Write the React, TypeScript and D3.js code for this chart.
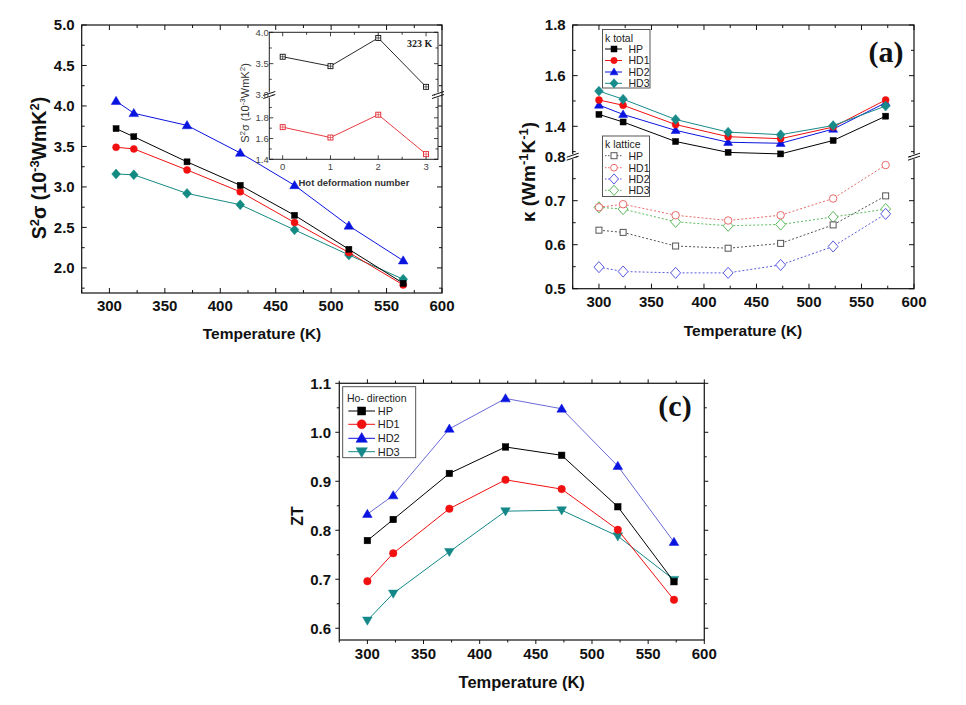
import React from 'react';
import * as d3 from 'd3';

const SANS = "'Liberation Sans', Arial, sans-serif";
const SERIF = "'Liberation Serif', 'Times New Roman', serif";

// ---------- Panel 1: power factor ----------
const tempPF = [306, 322, 370, 418, 467, 516, 565];
const pfHP = [3.72, 3.62, 3.31, 3.02, 2.65, 2.23, 1.81];
const pfHD1 = [3.49, 3.47, 3.21, 2.94, 2.56, 2.19, 1.79];
const pfHD2 = [4.06, 3.91, 3.76, 3.42, 3.02, 2.52, 2.09];
const pfHD3 = [3.16, 3.15, 2.92, 2.78, 2.47, 2.16, 1.86];
const pfYTicks = [2.0, 2.5, 3.0, 3.5, 4.0, 4.5, 5.0];
const xTicks = [300, 350, 400, 450, 500, 550, 600];

// inset
const hotNum = [0, 1, 2, 3];
const insetUpper = [3.61, 3.46, 3.91, 3.13];
const insetLower = [1.71, 1.61, 1.83, 1.45];
const insetYUpperTicks = [3.0, 3.5, 4.0];
const insetYLowerTicks = [1.4, 1.6, 1.8];

// ---------- Panel (a): thermal conductivity ----------
const tempK = [300, 323, 373, 423, 473, 523, 573];
const kTotHP = [1.447, 1.417, 1.34, 1.297, 1.291, 1.344, 1.44];
const kTotHD1 = [1.504, 1.483, 1.407, 1.359, 1.351, 1.397, 1.504];
const kTotHD2 = [1.484, 1.447, 1.384, 1.337, 1.333, 1.389, 1.493];
const kTotHD3 = [1.539, 1.507, 1.427, 1.377, 1.367, 1.403, 1.48];
const kLatHP = [0.633, 0.628, 0.597, 0.592, 0.603, 0.645, 0.711];
const kLatHD1 = [0.685, 0.692, 0.667, 0.655, 0.667, 0.705, 0.781];
const kLatHD2 = [0.549, 0.539, 0.536, 0.536, 0.554, 0.596, 0.67];
const kLatHD3 = [0.685, 0.681, 0.652, 0.643, 0.646, 0.663, 0.681];
const kUpperTicks = [1.4, 1.6, 1.8];
const kLowerTicks = [0.5, 0.6, 0.7, 0.8];

// ---------- Panel (c): ZT ----------
const ztHP = [0.779, 0.822, 0.916, 0.97, 0.953, 0.848, 0.695];
const ztHD1 = [0.696, 0.753, 0.844, 0.903, 0.884, 0.801, 0.658];
const ztHD2 = [0.833, 0.871, 1.007, 1.069, 1.048, 0.931, 0.776];
const ztHD3 = [0.616, 0.671, 0.756, 0.839, 0.841, 0.788, 0.699];
const ztYTicks = [0.6, 0.7, 0.8, 0.9, 1.0, 1.1];

const seriesNames = ['HP', 'HD1', 'HD2', 'HD3'];

type Shape = 'square' | 'circle' | 'tri' | 'triDown' | 'diamond' | 'squarePlus';

function mark(shape: Shape, x: number, y: number, s: number, color: string, open: boolean, key: any) {
  const fill = open ? 'white' : color;
  const sw = open ? 1 : 0.5;
  switch (shape) {
    case 'square':
      return <rect key={key} x={x - s / 2} y={y - s / 2} width={s} height={s} fill={fill} stroke={color} strokeWidth={sw} />;
    case 'squarePlus':
      return (
        <g key={key}>
          <rect x={x - s / 2} y={y - s / 2} width={s} height={s} fill="white" stroke={color} strokeWidth={0.9} />
          <path d={`M${x - s / 2},${y}H${x + s / 2}M${x},${y - s / 2}V${y + s / 2}`} stroke={color} strokeWidth={0.6} />
        </g>
      );
    case 'circle':
      return <circle key={key} cx={x} cy={y} r={s / 2} fill={fill} stroke={color} strokeWidth={sw} />;
    case 'tri':
      return <path key={key} d={`M${x},${y - s * 0.6}L${x + s * 0.6},${y + s * 0.42}L${x - s * 0.6},${y + s * 0.42}Z`} fill={fill} stroke={color} strokeWidth={sw} />;
    case 'triDown':
      return <path key={key} d={`M${x},${y + s * 0.6}L${x + s * 0.6},${y - s * 0.42}L${x - s * 0.6},${y - s * 0.42}Z`} fill={fill} stroke={color} strokeWidth={sw} />;
    case 'diamond':
      return <path key={key} d={`M${x},${y - s * 0.62}L${x + s * 0.55},${y}L${x},${y + s * 0.62}L${x - s * 0.55},${y}Z`} fill={fill} stroke={color} strokeWidth={sw} />;
  }
  return null;
}

function Series(props: {
  xs: (v: number) => number; ys: (v: number) => number; tx: number[]; vals: number[];
  color: string; lineColor?: string; shape: Shape; size: number; dash?: string; open?: boolean; lw?: number;
}) {
  const { xs, ys, tx, vals, color, lineColor, shape, size, dash, open, lw } = props;
  const pts: [number, number][] = tx.map((t, i) => [xs(t), ys(vals[i])]);
  const line = d3.line<[number, number]>()(pts) || '';
  return (
    <g>
      <path d={line} fill="none" stroke={lineColor || color} strokeWidth={lw || 1} strokeDasharray={dash} />
      {pts.map((p, i) => mark(shape, p[0], p[1], size, color, !!open, i))}
    </g>
  );
}

function Ticks(props: {
  x0: number; x1: number; y0: number; y1: number; xMaj: number[]; xMin: number[]; yMaj: number[]; yMin: number[];
  dir: number; maj: number; min: number; sw?: number;
}) {
  const { x0, x1, y0, y1, xMaj, xMin, yMaj, yMin, dir, maj, min } = props;
  const d: string[] = [];
  const addX = (x: number, l: number) => {
    d.push(`M${x},${y1}V${y1 - dir * l}`);
    d.push(`M${x},${y0}V${y0 + dir * l}`);
  };
  const addY = (y: number, l: number) => {
    d.push(`M${x0},${y}H${x0 + dir * l}`);
    d.push(`M${x1},${y}H${x1 - dir * l}`);
  };
  xMaj.forEach((x) => addX(x, maj));
  xMin.forEach((x) => addX(x, min));
  yMaj.forEach((y) => addY(y, maj));
  yMin.forEach((y) => addY(y, min));
  return <path d={d.join('')} stroke="#111" strokeWidth={props.sw || 1} fill="none" />;
}

function BreakMark({ x, y }: { x: number; y: number }) {
  return (
    <g>
      <rect x={x - 3} y={y - 2.5} width={6} height={5} fill="white" />
      <path d={`M${x - 6},${y + 0.5}L${x + 6},${y - 3.5}M${x - 6},${y + 3.5}L${x + 6},${y - 0.5}`} stroke="#111" strokeWidth={1} />
    </g>
  );
}

const fmt1 = (v: number) => v.toFixed(1);

function PanelPF() {
  const L = 81.7, R = 442, T = 25, B = 293;
  const xs = d3.scaleLinear().domain([275, 600]).range([L, R]);
  const ys = d3.scaleLinear().domain([1.69, 5.0]).range([B, T]);
  const xMin = d3.range(275, 601, 50).map(xs);
  const yMaj = pfYTicks.map(ys);
  const yMin = pfYTicks.map((v) => v - 0.25).filter((v) => v > 1.69).map(ys);
  return (
    <g>
      <rect x={L} y={T} width={R - L} height={B - T} fill="white" stroke="#111" strokeWidth={1.2} />
      <Ticks x0={L} x1={R} y0={T} y1={B} xMaj={xTicks.map(xs)} xMin={xMin} yMaj={yMaj} yMin={yMin} dir={1} maj={5} min={3} />
      {pfYTicks.map((v) => (
        <text key={v} x={L - 7} y={ys(v) + 5.4} textAnchor="end" fontFamily={SANS} fontWeight="bold" fontSize={15} fill="#111">{fmt1(v)}</text>
      ))}
      {xTicks.map((v) => (
        <text key={v} x={xs(v)} y={310.5} textAnchor="middle" fontFamily={SANS} fontWeight="bold" fontSize={15} fill="#111">{v}</text>
      ))}
      <Series xs={xs} ys={ys} tx={tempPF} vals={pfHD3} color="#138a82" shape="diamond" size={8} />
      <Series xs={xs} ys={ys} tx={tempPF} vals={pfHD1} color="#f01010" shape="circle" size={7} />
      <Series xs={xs} ys={ys} tx={tempPF} vals={pfHP} color="#000" shape="square" size={6} />
      <Series xs={xs} ys={ys} tx={tempPF} vals={pfHD2} color="#0a14e0" shape="tri" size={8} />
      <text x={262} y={338.5} textAnchor="middle" fontFamily={SANS} fontWeight="bold" fontSize={15.5} fill="#111">Temperature (K)</text>
      <text transform="translate(46,168) rotate(-90)" textAnchor="middle" fontFamily={SANS} fontWeight="bold" fontSize={19.5} fill="#111">
        <tspan>S</tspan>
        <tspan dy={-7} fontSize={13}>2</tspan>
        <tspan dy={7}>σ (10</tspan>
        <tspan dy={-7} fontSize={13}>-3</tspan>
        <tspan dy={7}>WmK</tspan>
        <tspan dy={-7} fontSize={13}>2</tspan>
        <tspan dy={7}>)</tspan>
      </text>
      <Inset />
    </g>
  );
}

function Inset() {
  const L = 269.3, R = 438, T = 32.3, B = 159.3, BR = 95;
  const xs = d3.scaleLinear().domain([-0.28, 3.25]).range([L, R]);
  const yU = d3.scaleLinear().domain([3.0, 4.0]).range([BR, T]);
  const yL = d3.scaleLinear().domain([1.4, 2.02]).range([B, BR]);
  const xMin = [-0.5, 0.5, 1.5, 2.5].filter((v) => v > -0.28).map(xs);
  const yMaj = [...insetYUpperTicks.map(yU), ...insetYLowerTicks.map(yL)];
  const yMin = [...[3.25, 3.75].map(yU), ...[1.5, 1.7, 1.9].map(yL)];
  const red = '#e3262e';
  return (
    <g>
      <rect x={L} y={T} width={R - L} height={B - T} fill="white" stroke="#222" strokeWidth={1} />
      <Ticks x0={L} x1={R} y0={T} y1={B} xMaj={hotNum.map(xs)} xMin={xMin} yMaj={yMaj} yMin={yMin} dir={1} maj={4} min={2.5} sw={0.8} />
      <BreakMark x={L} y={BR} />
      <BreakMark x={R} y={BR} />
      {insetYUpperTicks.map((v) => (
        <text key={'u' + v} x={L - 0.5} y={yU(v) + 3.3} textAnchor="end" fontFamily={SANS} fontSize={9.5} fill="#444">{fmt1(v)}</text>
      ))}
      {insetYLowerTicks.map((v) => (
        <text key={'l' + v} x={L - 0.5} y={yL(v) + 3.3} textAnchor="end" fontFamily={SANS} fontSize={9.5} fill="#444">{fmt1(v)}</text>
      ))}
      {hotNum.map((v) => (
        <text key={v} x={xs(v)} y={169.5} textAnchor="middle" fontFamily={SANS} fontSize={9.5} fill="#444">{v}</text>
      ))}
      <Series xs={xs} ys={yU} tx={hotNum} vals={insetUpper} color="#111" shape="squarePlus" size={5} lw={0.9} />
      <Series xs={xs} ys={yL} tx={hotNum} vals={insetLower} color={red} shape="squarePlus" size={5} lw={0.9} />
      <text x={407} y={46.5} fontFamily={SERIF} fontWeight="bold" fontSize={10} fill="#222">323 K</text>
      <text x={298.5} y={186.3} fontFamily={SANS} fontWeight="bold" fontSize={9.5} fill="#333">Hot deformation number</text>
      <text transform="translate(248.5,103) rotate(-90)" textAnchor="middle" fontFamily={SANS} fontSize={11} fill="#333">
        <tspan>S</tspan>
        <tspan dy={-4} fontSize={8}>2</tspan>
        <tspan dy={4}>σ (10</tspan>
        <tspan dy={-4} fontSize={8}>-3</tspan>
        <tspan dy={4}>WmK</tspan>
        <tspan dy={-4} fontSize={8}>2</tspan>
        <tspan dy={4}>)</tspan>
      </text>
    </g>
  );
}

function PanelK() {
  const L = 572.7, R = 914, T = 25, B = 288.7, BR = 156.7;
  const xs = d3.scaleLinear().domain([275, 600]).range([L, R]);
  const yU = d3.scaleLinear().domain([1.28, 1.8]).range([BR, T]);
  const yL = d3.scaleLinear().domain([0.5, 0.8]).range([B, BR]);
  const xMin = d3.range(275, 601, 50).map(xs);
  const yMaj = [...kUpperTicks.map(yU), ...kLowerTicks.map(yL)];
  const yMin = [...[1.3, 1.5, 1.7].map(yU), ...[0.55, 0.65, 0.75].map(yL)];
  const teal = '#178a8a';
  const latBlack = '#555', latRed = '#e86a6a', latBlue = '#5a5ae0', latGreen = '#5cba5c';
  const legTot = [
    { c: '#000', s: 'square' as Shape, sz: 8 },
    { c: '#f01010', s: 'circle' as Shape, sz: 8.5 },
    { c: '#0a14e0', s: 'tri' as Shape, sz: 9 },
    { c: teal, s: 'diamond' as Shape, sz: 10 },
  ];
  const legLat = [
    { c: latBlack, s: 'square' as Shape, sz: 8 },
    { c: latRed, s: 'circle' as Shape, sz: 9 },
    { c: latBlue, s: 'diamond' as Shape, sz: 11 },
    { c: latGreen, s: 'diamond' as Shape, sz: 11 },
  ];
  const totY = [49, 60.5, 72, 83.3];
  const latY = [155.7, 167.7, 179, 190.3];
  return (
    <g>
      <rect x={L} y={T} width={R - L} height={B - T} fill="white" stroke="#111" strokeWidth={1.2} />
      <Ticks x0={L} x1={R} y0={T} y1={B} xMaj={xTicks.map(xs)} xMin={xMin} yMaj={yMaj} yMin={yMin} dir={1} maj={5} min={3} />
      <BreakMark x={L} y={BR} />
      <BreakMark x={R} y={BR} />
      {kUpperTicks.map((v) => (
        <text key={'u' + v} x={L - 7} y={yU(v) + 5.4} textAnchor="end" fontFamily={SANS} fontWeight="bold" fontSize={15} fill="#111">{fmt1(v)}</text>
      ))}
      {kLowerTicks.map((v) => (
        <text key={'l' + v} x={L - 7} y={yL(v) + 5.4} textAnchor="end" fontFamily={SANS} fontWeight="bold" fontSize={15} fill="#111">{fmt1(v)}</text>
      ))}
      {xTicks.map((v) => (
        <text key={v} x={xs(v)} y={307} textAnchor="middle" fontFamily={SANS} fontWeight="bold" fontSize={15} fill="#111">{v}</text>
      ))}
      <Series xs={xs} ys={yU} tx={tempK} vals={kTotHP} color="#000" shape="square" size={6} />
      <Series xs={xs} ys={yU} tx={tempK} vals={kTotHD2} color="#0a14e0" shape="tri" size={7.5} />
      <Series xs={xs} ys={yU} tx={tempK} vals={kTotHD1} color="#f01010" shape="circle" size={7} />
      <Series xs={xs} ys={yU} tx={tempK} vals={kTotHD3} color={teal} shape="diamond" size={8} />
      <Series xs={xs} ys={yL} tx={tempK} vals={kLatHD3} color={latGreen} shape="diamond" size={9} open dash="2,2" />
      <Series xs={xs} ys={yL} tx={tempK} vals={kLatHD1} color={latRed} shape="circle" size={7.5} open dash="2,2" />
      <Series xs={xs} ys={yL} tx={tempK} vals={kLatHP} color={latBlack} shape="square" size={6} open dash="2,2" />
      <Series xs={xs} ys={yL} tx={tempK} vals={kLatHD2} color={latBlue} shape="diamond" size={9} open dash="2,2" />
      {/* legends */}
      <rect x={602.5} y={29.5} width={47.5} height={58.5} fill="white" stroke="#444" strokeWidth={0.9} />
      <text x={605} y={41.5} fontFamily={SANS} fontSize={10.5} fill="#222">k total</text>
      {legTot.map((e, i) => (
        <g key={i}>
          <line x1={605} x2={622} y1={totY[i]} y2={totY[i]} stroke={e.c} strokeWidth={1} />
          {mark(e.s, 614, totY[i], e.sz * 0.75, e.c, false, 'm')}
          <text x={628.5} y={totY[i] + 3.8} fontFamily={SANS} fontSize={10.5} fill="#222">{seriesNames[i]}</text>
        </g>
      ))}
      <rect x={602.5} y={136} width={47} height={60.5} fill="white" stroke="#444" strokeWidth={0.9} />
      <text x={605} y={147.5} fontFamily={SANS} fontSize={10.5} fill="#222">k lattice</text>
      {legLat.map((e, i) => (
        <g key={i}>
          <line x1={605} x2={622} y1={latY[i]} y2={latY[i]} stroke={e.c} strokeWidth={1} strokeDasharray="1.5,1.5" />
          {mark(e.s, 614, latY[i], e.sz * 0.75, e.c, true, 'm')}
          <text x={628.5} y={latY[i] + 3.8} fontFamily={SANS} fontSize={10.5} fill="#222">{seriesNames[i]}</text>
        </g>
      ))}
      <text x={886} y={62} textAnchor="middle" fontFamily={SERIF} fontWeight="bold" fontSize={30} fill="#111">(a)</text>
      <text x={743} y={335.5} textAnchor="middle" fontFamily={SANS} fontWeight="bold" fontSize={15.5} fill="#111">Temperature (K)</text>
      <text transform="translate(535,172) rotate(-90)" textAnchor="middle" fontFamily={SANS} fontWeight="bold" fontSize={19} fill="#111">
        <tspan>κ (Wm</tspan>
        <tspan dy={-7} fontSize={13}>-1</tspan>
        <tspan dy={7}>K</tspan>
        <tspan dy={-7} fontSize={13}>-1</tspan>
        <tspan dy={7}>)</tspan>
      </text>
    </g>
  );
}

function PanelZT() {
  const L = 339.3, R = 704.3, T = 383.3, B = 640;
  const xs = d3.scaleLinear().domain([275, 600]).range([L, R]);
  const ys = d3.scaleLinear().domain([0.576, 1.1]).range([B, T]);
  const xMin = d3.range(275, 601, 50).map(xs);
  const yMaj = ztYTicks.map(ys);
  const yMin = ztYTicks.map((v) => v - 0.05).filter((v) => v > 0.576).map(ys);
  const teal = '#148888';
  const leg = [
    { c: '#000', s: 'square' as Shape, sz: 8 },
    { c: '#f01010', s: 'circle' as Shape, sz: 9 },
    { c: '#0a14e0', s: 'tri' as Shape, sz: 9.5 },
    { c: teal, s: 'triDown' as Shape, sz: 9.5 },
  ];
  const legY = [411, 424.3, 438.3, 451.7];
  return (
    <g>
      <rect x={L} y={T} width={R - L} height={B - T} fill="white" stroke="#222" strokeWidth={1.3} />
      <Ticks x0={L} x1={R} y0={T} y1={B} xMaj={xTicks.map(xs)} xMin={xMin} yMaj={yMaj} yMin={yMin} dir={-1} maj={4} min={2.5} />
      {ztYTicks.map((v) => (
        <text key={v} x={331} y={ys(v) + 5.4} textAnchor="end" fontFamily={SANS} fontWeight="bold" fontSize={15} fill="#111">{fmt1(v)}</text>
      ))}
      {xTicks.map((v) => (
        <text key={v} x={xs(v)} y={658.5} textAnchor="middle" fontFamily={SANS} fontWeight="bold" fontSize={15} fill="#111">{v}</text>
      ))}
      <Series xs={xs} ys={ys} tx={tempK} vals={ztHD3} color={teal} shape="triDown" size={8} />
      <Series xs={xs} ys={ys} tx={tempK} vals={ztHP} color="#000" shape="square" size={6.5} />
      <Series xs={xs} ys={ys} tx={tempK} vals={ztHD1} color="#f01010" shape="circle" size={7.5} />
      <Series xs={xs} ys={ys} tx={tempK} vals={ztHD2} color="#0a14e0" lineColor="#6a6ad8" shape="tri" size={8} />
      <rect x={342.7} y={386.7} width={73} height={71} fill="white" stroke="#444" strokeWidth={0.9} />
      <text x={347} y={401.5} fontFamily={SANS} fontSize={10.5} fill="#222">Ho- direction</text>
      {leg.map((e, i) => (
        <g key={i}>
          <line x1={348.3} x2={375} y1={legY[i]} y2={legY[i]} stroke={e.c} strokeWidth={1} />
          {mark(e.s, 361.7, legY[i], e.sz, e.c, false, 'm')}
          <text x={377.7} y={legY[i] + 4} fontFamily={SANS} fontSize={11} fill="#222">{seriesNames[i]}</text>
        </g>
      ))}
      <text x={675} y={416} textAnchor="middle" fontFamily={SERIF} fontWeight="bold" fontSize={30} fill="#111">(c)</text>
      <text x={521.7} y={687.5} textAnchor="middle" fontFamily={SANS} fontWeight="bold" fontSize={16.5} fill="#111">Temperature (K)</text>
      <text transform="translate(303,516) rotate(-90)" textAnchor="middle" fontFamily={SANS} fontWeight="bold" fontSize={16} fill="#111">ZT</text>
    </g>
  );
}

export default function App() {
  return (
    <div style={{ position: 'absolute', left: 0, top: 0, width: 966, height: 705, background: 'white' }}>
      <svg width={966} height={705} viewBox="0 0 966 705" style={{ display: 'block' }}>
        <rect x={0} y={0} width={966} height={705} fill="white" />
        <PanelPF />
        <PanelK />
        <PanelZT />
      </svg>
    </div>
  );
}
